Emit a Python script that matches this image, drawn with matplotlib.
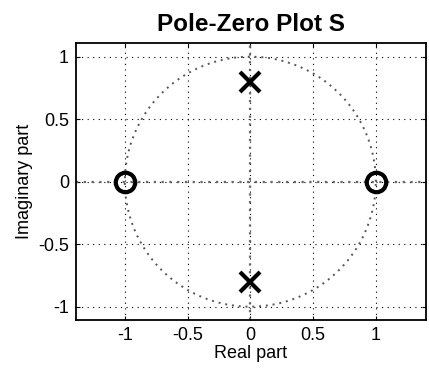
import numpy as np
import matplotlib.pyplot as plt

# ceros y polos del sistema
ceros = [-1.0, 1.0]
ceros_im = [0.0, 0.0]
polos = [0.0, 0.0]
polos_im = [0.8, -0.8]

ticks_x = [-1, -0.5, 0, 0.5, 1]
ticks_y = [-1, -0.5, 0, 0.5, 1]

plt.rcParams.update({'font.family': 'Liberation Sans', 'font.size': 13})

fig = plt.figure(figsize=(4.29, 3.70), dpi=100)
ax = fig.add_axes([0.177, 0.135, 0.816, 0.748])

# circulo unitario
t = np.linspace(0, 2 * np.pi, 400)
ax.plot(np.cos(t), np.sin(t), linestyle=(0, (1, 2.5)), color='#555555', linewidth=1.4)

# ejes real e imaginario
ax.axhline(0, linestyle=(0, (1, 2.5)), color='#666666', linewidth=1.6)
ax.axvline(0, linestyle=(0, (1, 2.5)), color='#666666', linewidth=1.6)

ax.plot(ceros, ceros_im, 'o', markersize=14, markerfacecolor='none',
        markeredgecolor='black', markeredgewidth=3)
ax.plot(polos, polos_im, 'x', markersize=14, color='black', markeredgewidth=3)

ax.set_xlim(-1.39, 1.4)
ax.set_ylim(-1.107, 1.107)
ax.set_xticks(ticks_x)
ax.set_xticklabels(['-1', '-0.5', '0', '0.5', '1'])
ax.set_yticks(ticks_y)
ax.set_yticklabels(['-1', '-0.5', '0', '0.5', '1'])
ax.tick_params(direction='in', length=3, top=True, right=True, pad=5)
ax.grid(True, linestyle=(0, (1, 4)), color='black', linewidth=0.8)
for s in ax.spines.values():
    s.set_linewidth(1.3)

ax.set_xlabel('Real part', labelpad=1)
ax.set_ylabel('Imaginary part', labelpad=4)
ax.set_title('Pole-Zero Plot S', fontsize=17.5, fontweight='bold', pad=9)

plt.savefig('out.png', dpi=100)
plt.close()
